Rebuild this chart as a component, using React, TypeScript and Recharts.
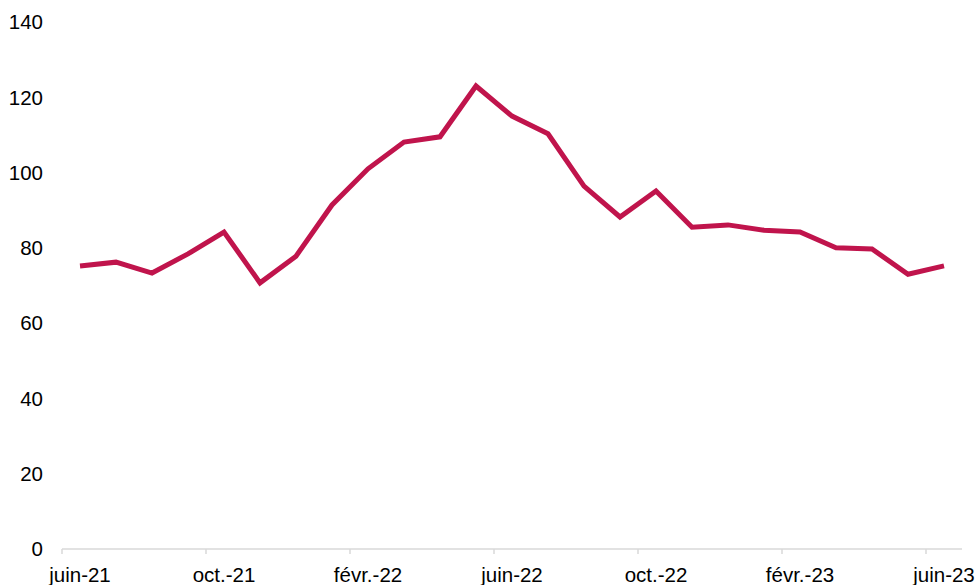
import React from 'react';
import { LineChart, Line, XAxis, YAxis } from 'recharts';

const months = [
  'juin-21', 'juil.-21', 'août-21', 'sept.-21', 'oct.-21', 'nov.-21', 'déc.-21',
  'janv.-22', 'févr.-22', 'mars-22', 'avr.-22', 'mai-22', 'juin-22', 'juil.-22',
  'août-22', 'sept.-22', 'oct.-22', 'nov.-22', 'déc.-22', 'janv.-23', 'févr.-23',
  'mars-23', 'avr.-23', 'mai-23', 'juin-23',
];

const values = [
  75.2, 76.2, 73.3, 78.4, 84.2, 70.7, 77.8, 91.4, 101, 108.1, 109.5, 123.0, 115.0,
  110.3, 96.4, 88.2, 95.1, 85.5, 86.1, 84.7, 84.2, 80.0, 79.7, 73.0, 75.2,
];

const yTicks = [0, 20, 40, 60, 80, 100, 120, 140];

const data = months.map((m, i) => ({ month: m, value: values[i] }));

const WIDTH = 980;
const HEIGHT = 585;
const LEFT = 62;
const RIGHT = 18;
const halfBand = (WIDTH - LEFT - RIGHT) / months.length / 2;

const font = 'Liberation Sans, Arial, sans-serif';

// label centred on the month, tick mark on the boundary before it (Excel style)
const MonthTick = (props: any) => {
  const { x, y, payload } = props;
  return (
    <g>
      <line x1={x - halfBand} x2={x - halfBand} y1={y} y2={y + 5} stroke="#d9d9d9" strokeWidth={1.5} />
      <text x={x} y={y + 18} dy="0.71em" textAnchor="middle" fill="#000" fontSize={20.5} fontFamily={font}>
        {payload.value}
      </text>
    </g>
  );
};

export default function App() {
  return (
    <div style={{ position: 'absolute', left: 0, top: 0, background: '#fff' }}>
      <LineChart width={WIDTH} height={HEIGHT} data={data} margin={{ top: 22, right: RIGHT, bottom: 0, left: 0 }}>
        <XAxis
          dataKey="month"
          scale="band"
          interval={3}
          tickLine={false}
          tickSize={0}
          tickMargin={0}
          axisLine={{ stroke: '#d9d9d9', strokeWidth: 1.5 }}
          tick={<MonthTick />}
          height={36}
        />
        <YAxis
          width={LEFT}
          domain={[0, 140]}
          ticks={yTicks}
          axisLine={false}
          tickLine={false}
          tickSize={0}
          tickMargin={19}
          tick={{ fill: '#000', fontSize: 20.5, fontFamily: font }}
        />
        <Line
          type="linear"
          dataKey="value"
          stroke="#c0144c"
          strokeWidth={5}
          dot={false}
          isAnimationActive={false}
        />
      </LineChart>
    </div>
  );
}
